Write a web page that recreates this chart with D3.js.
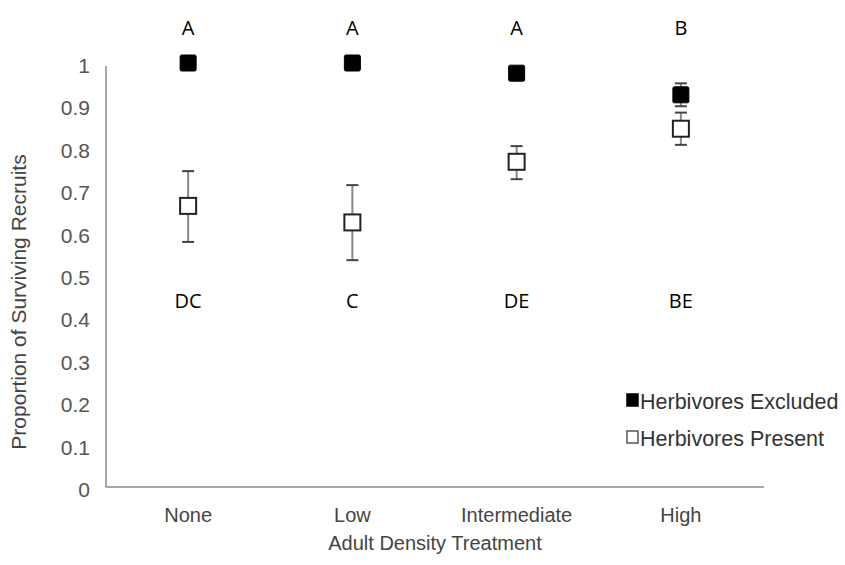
<!DOCTYPE html>
<html><head><meta charset="utf-8">
<script src="https://cdn.jsdelivr.net/npm/d3@7"></script>
<style>body{margin:0;background:#fff}</style>
</head><body>
<svg id="c" width="845" height="565"></svg>
<script>
const categories = ["None","Low","Intermediate","High"];
const excluded = [1.0, 1.0, 0.976, 0.925];
const excludedErr = [0, 0, 0, 0.027];
const present = [0.663, 0.624, 0.767, 0.845];
const presentLo = [0.578, 0.535, 0.726, 0.807];
const presentHi = [0.745, 0.712, 0.804, 0.883];
const topLetters = ["A","A","A","B"];
const bottomLetters = ["DC","C","DE","BE"];
const yTicks = [0,0.1,0.2,0.3,0.4,0.5,0.6,0.7,0.8,0.9,1];

const svg = d3.select("#c");
const x = d3.scaleBand().domain(categories).range([106, 763]);
const y = d3.scaleLinear().domain([0,1]).range([487, 63]);
const cx = c => x(c) + x.bandwidth()/2;
const sans = "Liberation Sans, Arial";

// axes
svg.append("line").attr("x1",106).attr("x2",106).attr("y1",y(1)+3).attr("y2",y(0)).attr("stroke","#8a8a8a").attr("stroke-width",1.5);
svg.append("line").attr("x1",106).attr("x2",764).attr("y1",y(0)).attr("y2",y(0)).attr("stroke","#8a8a8a").attr("stroke-width",1.5);

svg.selectAll(".yt").data(yTicks).join("text")
  .attr("x",90).attr("y",d=>y(d)+10).attr("text-anchor","end")
  .attr("font-family",sans).attr("font-size",21).attr("fill","#555")
  .text(d=>d3.format("")(d));

svg.selectAll(".xt").data(categories).join("text")
  .attr("x",d=>cx(d)).attr("y",522).attr("text-anchor","middle")
  .attr("font-family",sans).attr("font-size",20).attr("fill","#444").text(d=>d);

svg.append("text").attr("x",435).attr("y",550).attr("text-anchor","middle")
  .attr("font-family",sans).attr("font-size",20).attr("fill","#444").text("Adult Density Treatment");
svg.append("text").attr("transform","translate(26,302) rotate(-90)").attr("text-anchor","middle")
  .attr("font-family",sans).attr("font-size",21).attr("fill","#444").text("Proportion of Surviving Recruits");

// error bars
function errbar(xc, lo, hi){
  const g = svg.append("g");
  g.append("line").attr("x1",xc).attr("x2",xc).attr("y1",y(lo)).attr("y2",y(hi)).attr("stroke","#888").attr("stroke-width",2);
  [lo,hi].forEach(v=>g.append("line").attr("x1",xc-6).attr("x2",xc+6).attr("y1",y(v)).attr("y2",y(v)).attr("stroke","#444").attr("stroke-width",2));
}
categories.forEach((c,i)=>{
  errbar(cx(c), presentLo[i], presentHi[i]);
  if (excludedErr[i]>0) errbar(cx(c), excluded[i]-excludedErr[i], excluded[i]+excludedErr[i]);
});

const s = 16;
svg.selectAll(".pr").data(categories).join("rect")
  .attr("x",d=>cx(d)-s/2).attr("y",(d,i)=>y(present[i])-s/2).attr("width",s).attr("height",s)
  .attr("fill","#fff").attr("stroke","#222").attr("stroke-width",2);
svg.selectAll(".ex").data(categories).join("rect")
  .attr("x",d=>cx(d)-s/2).attr("y",(d,i)=>y(excluded[i])-s/2).attr("width",s).attr("height",s)
  .attr("rx",1.5).attr("fill","#000").attr("stroke","#000").attr("stroke-width",1);

svg.selectAll(".tl").data(categories).join("text")
  .attr("x",d=>cx(d)).attr("y",35).attr("text-anchor","middle")
  .attr("font-family","Open Sans, Noto Sans").attr("font-size",20).attr("fill","#000").text((d,i)=>topLetters[i]);
svg.selectAll(".bl").data(categories).join("text")
  .attr("x",d=>cx(d)).attr("y",308).attr("text-anchor","middle")
  .attr("font-family","Open Sans, Noto Sans").attr("font-size",20).attr("fill","#000").text((d,i)=>bottomLetters[i]);

// legend
const leg = [{t:"Herbivores Excluded",f:"#000",y:409},{t:"Herbivores Present",f:"#fff",y:446}];
leg.forEach(l=>{
  svg.append("rect").attr("x",627).attr("y",l.y-15).attr("width",11).attr("height",12)
    .attr("fill",l.f).attr("stroke",l.f==="#000"?"#000":"#555").attr("stroke-width",1.5);
  svg.append("text").attr("x",640).attr("y",l.y).attr("font-family",sans)
    .attr("font-size",21.5).attr("fill","#333").text(l.t);
});
</script>
</body></html>
